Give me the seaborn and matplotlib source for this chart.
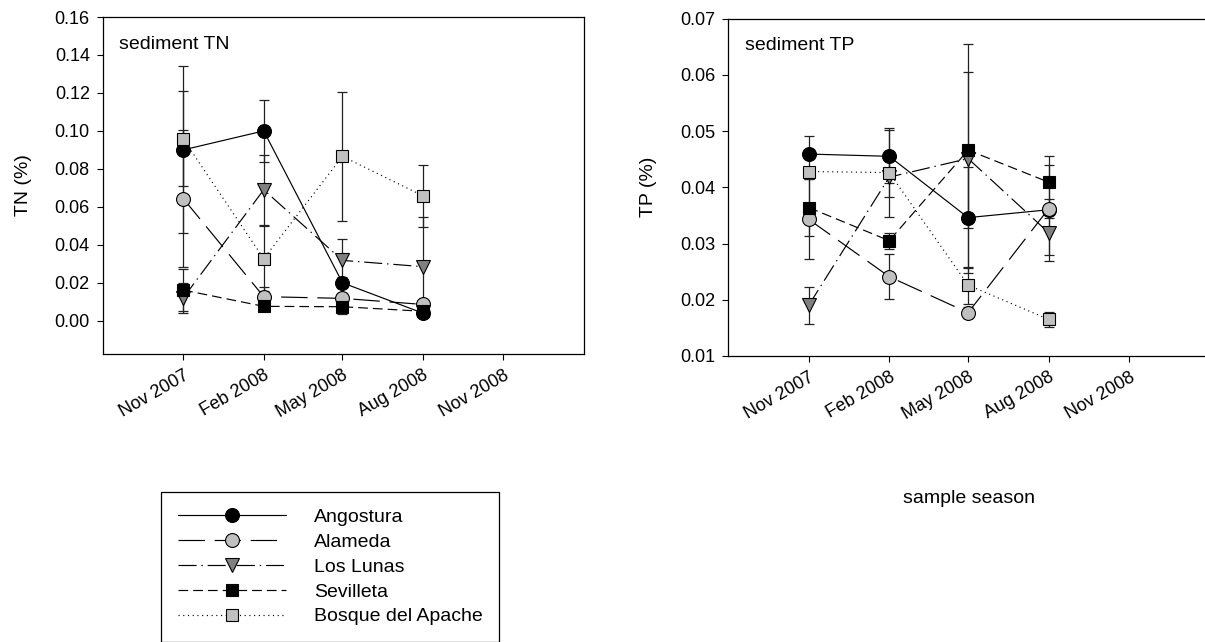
import numpy as np
import pandas as pd
import matplotlib
matplotlib.use("Agg")
import matplotlib.pyplot as plt
import seaborn as sns
from matplotlib.lines import Line2D

# ---------------- data ----------------
sample_dates = ["2007-11-01", "2008-02-01", "2008-05-01", "2008-08-01"]
tick_dates = ["2007-11-01", "2008-02-01", "2008-05-01", "2008-08-01", "2008-11-01"]
tick_labels = ["Nov 2007", "Feb 2008", "May 2008", "Aug 2008", "Nov 2008"]
sites = ["Angostura", "Alameda", "Los Lunas", "Sevilleta", "Bosque del Apache"]

tn_angostura = [0.090, 0.100, 0.020, 0.004]
tn_alameda = [0.0644, 0.0127, 0.0118, 0.0086]
tn_loslunas = [0.012, 0.069, 0.0318, 0.0285]
tn_sevilleta = [0.0162, 0.0076, 0.0074, 0.005]
tn_bosque = [0.0958, 0.0327, 0.0866, 0.0658]

tn_err_angostura = [0.044, 0.0165, 0.003, 0.002]
tn_err_alameda = [0.036, 0.005, 0.003, 0.002]
tn_err_loslunas = [0.008, 0.0185, 0.0113, 0.0264]
tn_err_sevilleta = [0.011, 0.002, 0.004, 0.002]
tn_err_bosque = [0.025, 0.017, 0.034, 0.0164]

tp_angostura = [0.0459, 0.0455, 0.0346, 0.0360]
tp_alameda = [0.0343, 0.0241, 0.0177, 0.0362]
tp_loslunas = [0.0190, 0.0418, 0.0451, 0.0319]
tp_sevilleta = [0.0364, 0.0305, 0.0466, 0.0409]
tp_bosque = [0.0428, 0.0426, 0.0226, 0.0165]

tp_err_angostura = [0.0033, 0.0047, 0.0090, 0.0080]
tp_err_alameda = [0.0071, 0.0040, 0.0010, 0.0017]
tp_err_loslunas = [0.0033, 0.0035, 0.0203, 0.0050]
tp_err_sevilleta = [0.0050, 0.0014, 0.0139, 0.0046]
tp_err_bosque = [0.0005, 0.0079, 0.0033, 0.0013]

tn_means = [tn_angostura, tn_alameda, tn_loslunas, tn_sevilleta, tn_bosque]
tn_errs = [tn_err_angostura, tn_err_alameda, tn_err_loslunas, tn_err_sevilleta, tn_err_bosque]
tp_means = [tp_angostura, tp_alameda, tp_loslunas, tp_sevilleta, tp_bosque]
tp_errs = [tp_err_angostura, tp_err_alameda, tp_err_loslunas, tp_err_sevilleta, tp_err_bosque]

# ---------------- style ----------------
sns.set_style("ticks")
plt.rcParams["font.family"] = ["Liberation Sans", "DejaVu Sans"]
plt.rcParams["lines.scale_dashes"] = False
plt.rcParams["axes.edgecolor"] = "black"
plt.rcParams["xtick.color"] = "black"
plt.rcParams["ytick.color"] = "black"
plt.rcParams["text.color"] = "black"
plt.rcParams["axes.labelcolor"] = "black"

styles = {
    "Angostura": dict(marker="o", mfc="black", ms=10, ls="-"),
    "Alameda": dict(marker="o", mfc="#c0c0c0", ms=10, ls=(0, (19, 7))),
    "Los Lunas": dict(marker="v", mfc="#808080", ms=9.5, ls=(0, (13, 3.5, 1, 3.5))),
    "Sevilleta": dict(marker="s", mfc="black", ms=8.3, ls=(0, (7, 3.6))),
    "Bosque del Apache": dict(marker="s", mfc="#c0c0c0", ms=8.3, ls=(0, (0.8, 2.6))),
}

TICK_FS = 13
TEXT_FS = 14

W, H = 1205, 642
fig = plt.figure(figsize=(W / 100, H / 100), dpi=100)
ax1 = fig.add_axes([102.7 / W, 1 - 354 / H, (584 - 102.7) / W, (354 - 17) / H])
ax2 = fig.add_axes([728 / W, 1 - 356 / H, (1210 - 728) / W, (356 - 18.5) / H])

x = pd.to_datetime(sample_dates)


def draw(ax, means, errs):
    for site, m, e in zip(sites, means, errs):
        ax.errorbar(x, m, yerr=e, fmt="none", ecolor="#222222", elinewidth=0.9,
                    capsize=3.6, capthick=0.9, zorder=2)
    for site, m in zip(sites, means):
        st = styles[site]
        df = pd.DataFrame({"date": x, "value": m})
        sns.lineplot(data=df, x="date", y="value", ax=ax, color="black",
                     linewidth=0.85, linestyle=st["ls"], marker=st["marker"],
                     markersize=st["ms"], markerfacecolor=st["mfc"],
                     markeredgecolor="black", markeredgewidth=0.8,
                     estimator=None, errorbar=None, sort=False, zorder=3,
                     legend=False)


draw(ax1, tn_means, tn_errs)
draw(ax2, tp_means, tp_errs)

tdates = pd.to_datetime(tick_dates)
for ax in (ax1, ax2):
    ax.set_xlim(pd.Timestamp("2007-08-01"), pd.Timestamp("2009-02-01"))
    ax.set_xticks(tdates)
    ax.set_xticklabels(tick_labels, rotation=30, ha="right",
                       rotation_mode="anchor", fontsize=TICK_FS)
    ax.tick_params(axis="both", direction="out", length=4.3, width=0.8,
                   labelsize=TICK_FS, top=False, right=False)
    ax.tick_params(axis="y", pad=5)
    ax.tick_params(axis="x", pad=5)
    for sp in ax.spines.values():
        sp.set_linewidth(0.9)
        sp.set_color("black")
    ax.set_xlabel("")

ax1.set_ylim(-0.0175, 0.16)
ax1.set_yticks(np.arange(0, 0.161, 0.02))
ax1.set_yticklabels([f"{v:.2f}" for v in np.arange(0, 0.161, 0.02)])
ax1.set_ylabel("TN (%)", fontsize=TEXT_FS)
ax1.yaxis.set_label_coords(-0.147, 0.5)
ax1.text(0.034, 0.917, "sediment TN", transform=ax1.transAxes,
         fontsize=TEXT_FS, va="center", ha="left")

ax2.set_ylim(0.01, 0.07)
ax2.set_yticks(np.arange(0.01, 0.0701, 0.01))
ax2.set_yticklabels([f"{v:.2f}" for v in np.arange(0.01, 0.0701, 0.01)])
ax2.set_ylabel("TP (%)", fontsize=TEXT_FS)
ax2.yaxis.set_label_coords(-0.147, 0.5)
ax2.text(0.036, 0.92, "sediment TP", transform=ax2.transAxes,
         fontsize=TEXT_FS, va="center", ha="left")
ax2.set_xlabel("sample season", fontsize=TEXT_FS)
ax2.xaxis.set_label_coords(0.5, -(490 - 356) / 337.5)

handles = [Line2D([0], [0], color="black", lw=0.85, linestyle=styles[s]["ls"],
                  marker=styles[s]["marker"], markersize=styles[s]["ms"],
                  markerfacecolor=styles[s]["mfc"], markeredgecolor="black",
                  markeredgewidth=0.8) for s in sites]
leg = fig.legend(handles, sites, loc="upper left",
                 bbox_to_anchor=(161 / W, 1 - 492 / H), bbox_transform=fig.transFigure,
                 frameon=True, fancybox=False, edgecolor="black", framealpha=1,
                 fontsize=TEXT_FS, handlelength=5.56, handletextpad=1.44, borderpad=0.85,
                 labelspacing=0.37, borderaxespad=0, numpoints=1)
leg.get_frame().set_linewidth(0.9)

fig.savefig("out.png", dpi=100)
